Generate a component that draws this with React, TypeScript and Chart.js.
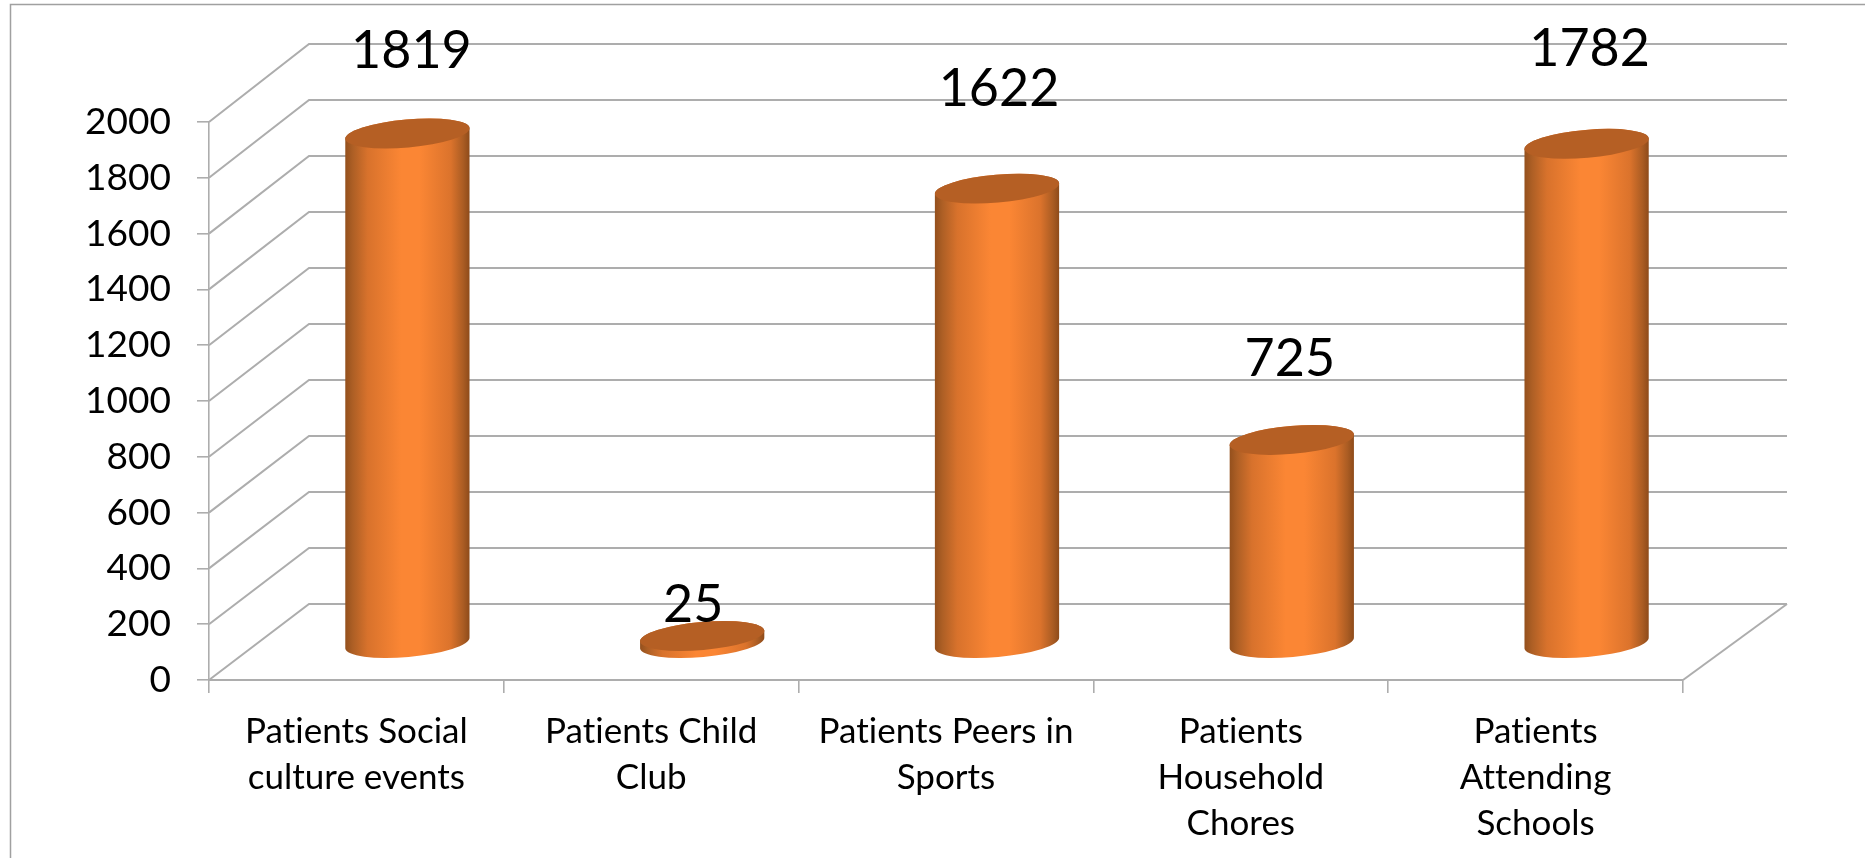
import React, { useEffect, useRef } from "react";
import { Chart, registerables } from "chart.js";

Chart.register(...registerables);

const categories = [
  ["Patients Social", "culture events"],
  ["Patients Child", "Club"],
  ["Patients Peers in", "Sports"],
  ["Patients", "Household", "Chores"],
  ["Patients", "Attending", "Schools"],
];
const patientCounts = [1819, 25, 1622, 725, 1782];
const yTicks = [0, 200, 400, 600, 800, 1000, 1200, 1400, 1600, 1800, 2000];
const labelShiftX = [4, -9, 2, -2, 3];
const labelShiftY = [-82, -31, -99, -81, -95];

const FONT = "Lato, 'Open Sans', sans-serif";
const GRID = "#adadad";

const CANVAS_W = 1865;
const CANVAS_H = 858;
const PLOT = { left: 209, right: 1683, top: 122, bottom: 680 };
const DEPTH_LEFT = 100;
const DEPTH_RIGHT = 104;
const DEPTH_Y = -76;
const BACK_SCALE = 560 / 558;
const MID_X = 51;
const MID_Y = -37;
const MID_SCALE = 1.004;
const TILT = (-5 * Math.PI) / 180;
const MINOR_AXIS = 14;

const depthPlugin = {
  id: "depthPlugin",
  beforeDraw(chart: any) {
    const { ctx, width, height } = chart;
    // A non-zero spacing keeps the "ti" in the labels as two separate letters.
    ctx.letterSpacing = "0.01px";
    ctx.save();
    ctx.fillStyle = "#ffffff";
    ctx.fillRect(0, 0, width, height);
    ctx.strokeStyle = "#a0a0a0";
    ctx.lineWidth = 1.5;
    ctx.beginPath();
    ctx.moveTo(10.5, height);
    ctx.lineTo(10.5, 4.5);
    ctx.lineTo(width, 4.5);
    ctx.stroke();
    ctx.restore();
  },
  beforeDatasetsDraw(chart: any) {
    const { ctx, scales, chartArea } = chart;
    const y0 = scales.y.getPixelForValue(0);
    const backY = (v: number) => y0 + DEPTH_Y - (y0 - scales.y.getPixelForValue(v)) * BACK_SCALE;
    ctx.save();
    ctx.strokeStyle = GRID;
    ctx.lineWidth = 2;
    yTicks.forEach((v) => {
      const by = backY(v);
      ctx.beginPath();
      ctx.moveTo(chartArea.left, scales.y.getPixelForValue(v));
      ctx.lineTo(chartArea.left + DEPTH_LEFT, by);
      ctx.lineTo(chartArea.right + DEPTH_RIGHT, by);
      ctx.stroke();
    });
    ctx.beginPath();
    ctx.moveTo(chartArea.right, y0);
    ctx.lineTo(chartArea.right + DEPTH_RIGHT, backY(0));
    ctx.stroke();
    ctx.restore();
  },
  beforeDatasetDraw(chart: any, args: any) {
    const { ctx } = chart;
    const y0 = chart.scales.y.getPixelForValue(0);
    args.meta.data.forEach((bar: any) => {
      const cx = bar.x + MID_X;
      const baseY = y0 + MID_Y;
      const topY = baseY - (y0 - bar.y) * MID_SCALE;
      const a = bar.width / 2 + 0.3;
      const left = cx - bar.width / 2;
      const g = ctx.createLinearGradient(left, 0, left + bar.width, 0);
      g.addColorStop(0, "#94501d");
      g.addColorStop(0.06, "#ad5f25");
      g.addColorStop(0.18, "#d8722c");
      g.addColorStop(0.45, "#fb8634");
      g.addColorStop(0.6, "#fb8634");
      g.addColorStop(0.85, "#db732c");
      g.addColorStop(0.95, "#aa5c23");
      g.addColorStop(1, "#8e4b1a");
      ctx.save();
      ctx.beginPath();
      ctx.ellipse(cx, topY, a, MINOR_AXIS, TILT, Math.PI, 2 * Math.PI, false);
      ctx.ellipse(cx, baseY, a, MINOR_AXIS, TILT, 0, Math.PI, false);
      ctx.closePath();
      ctx.fillStyle = g;
      ctx.fill();
      ctx.beginPath();
      ctx.ellipse(cx, topY, a, MINOR_AXIS, TILT, 0, 2 * Math.PI);
      ctx.fillStyle = "#b55f24";
      ctx.fill();
      ctx.restore();
    });
    return false;
  },
  afterDatasetsDraw(chart: any) {
    const { ctx } = chart;
    const meta = chart.getDatasetMeta(0);
    ctx.save();
    ctx.font = `52px ${FONT}`;
    ctx.fillStyle = "#000000";
    ctx.textAlign = "center";
    ctx.textBaseline = "middle";
    meta.data.forEach((bar: any, i: number) => {
      const y0 = chart.scales.y.getPixelForValue(0);
      const topY = y0 + MID_Y - (y0 - bar.y) * MID_SCALE;
      ctx.fillText(String(patientCounts[i]), bar.x + MID_X + labelShiftX[i], topY + labelShiftY[i]);
    });
    ctx.restore();
  },
};

export default function App() {
  const ref = useRef<HTMLCanvasElement | null>(null);
  useEffect(() => {
    if (!ref.current) return;
    const chart = new Chart(ref.current, {
      type: "bar",
      data: {
        labels: categories as any,
        datasets: [
          {
            label: "Patients",
            data: patientCounts,
            backgroundColor: "#fb8634",
            categoryPercentage: 1,
            barPercentage: 0.421,
          },
        ],
      },
      plugins: [depthPlugin as any],
      options: {
        responsive: false,
        animation: false,
        layout: {
          padding: { left: 0, top: PLOT.top, right: CANVAS_W - PLOT.right, bottom: 0 },
        },
        plugins: { legend: { display: false }, tooltip: { enabled: false }, title: { display: false } },
        scales: {
          x: {
            afterFit: (s: any) => {
              s.height = CANVAS_H - PLOT.bottom;
            },
            grid: { drawOnChartArea: false, drawTicks: true, tickLength: 13, color: GRID, lineWidth: 1.6 },
            border: { color: GRID, width: 2 },
            ticks: {
              color: "#000000",
              padding: 16,
              maxRotation: 0,
              minRotation: 0,
              autoSkip: false,
              font: { family: FONT, size: 35, lineHeight: 46 / 35 },
            },
          },
          y: {
            min: 0,
            max: 2000,
            afterFit: (s: any) => {
              s.width = PLOT.left;
            },
            afterBuildTicks: (s: any) => {
              s.ticks = yTicks.map((value) => ({ value }));
            },
            grid: { drawOnChartArea: false, drawTicks: true, tickLength: 12, color: GRID, lineWidth: 1.6 },
            border: { color: GRID, width: 1.6 },
            ticks: {
              color: "#000000",
              padding: 26,
              callback: (v: any) => String(v),
              font: { family: FONT, size: 37 },
            },
          },
        },
      },
    });
    return () => chart.destroy();
  }, []);
  return (
    <div style={{ position: "absolute", left: 0, top: 0, width: CANVAS_W, height: CANVAS_H }}>
      <canvas ref={ref} width={CANVAS_W} height={CANVAS_H} style={{ display: "block" }} />
    </div>
  );
}
